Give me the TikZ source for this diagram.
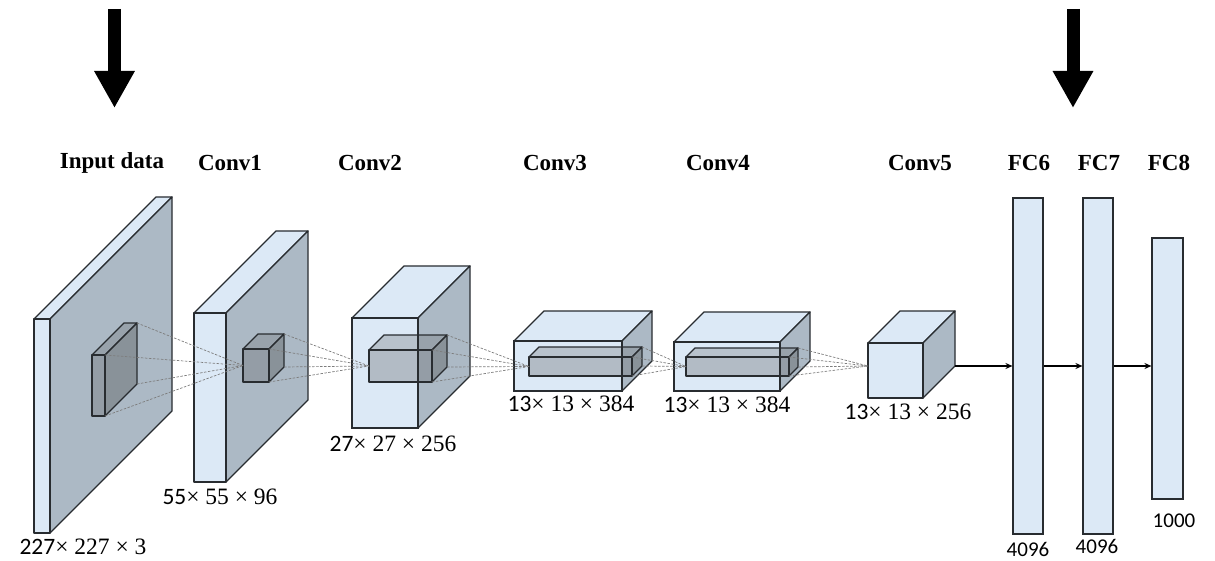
\documentclass[tikz,border=0pt]{standalone}
\usepackage{fontspec}
\usepackage{tikz}
\usetikzlibrary{arrows.meta,positioning,calc}
\newfontfamily\titlefont{Liberation Serif}
\newfontfamily\numfont{Carlito}
\definecolor{cnnfront}{RGB}{220,233,246}
\definecolor{cnnside}{RGB}{172,185,197}
\definecolor{cnnedge}{RGB}{40,44,48}
\definecolor{cnninner}{RGB}{110,114,118}
\definecolor{cnngrid}{RGB}{125,125,125}
\tikzstyle{outerfront} = [draw=cnnedge, line width=1.3pt, fill=cnnfront, line join=round]
\tikzstyle{outerside} = [draw=cnnedge, line width=1.3pt, fill=cnnside, line join=round]
\tikzstyle{outertop} = [draw=cnnedge, line width=1.3pt, fill=cnnfront, line join=round]
\tikzstyle{innerfront} = [draw=cnnedge, line width=1.3pt, fill=cnninner, fill opacity=0.38, line join=round]
\tikzstyle{innerside} = [draw=cnnedge, line width=1.3pt, fill=cnninner, fill opacity=0.55, line join=round]
\tikzstyle{innertop} = [draw=cnnedge, line width=1.3pt, fill=cnninner, fill opacity=0.32, line join=round]
\tikzstyle{edge} = [draw=cnnedge, line width=1.3pt]
\tikzstyle{fcbar} = [draw=cnnedge, line width=1.1pt, fill=cnnfront, inner sep=0pt]
\tikzstyle{conn} = [color=cnngrid, line width=0.7pt, dash pattern=on 2.5pt off 1.5pt]
\tikzstyle{arrow} = [line width=1.1pt, -{Stealth[length=7pt,width=6pt]}, color=black]
\tikzstyle{bigarrow} = [line width=13pt, -{Triangle[width=38pt,length=37pt]}]
\tikzstyle{layername} = [font=\titlefont\bfseries\fontsize{23}{26}\selectfont]
\tikzstyle{dimlabel} = [font=\titlefont\fontsize{23.5}{25}\selectfont]
\tikzstyle{fclabel} = [font=\numfont\fontsize{21}{23}\selectfont]

% box: name, x, y, width, height, depth, style prefix (outer/inner)
\newcommand{\layerbox}[7]{%
  \coordinate (#1-ftl) at (#2,#3);
  \coordinate (#1-ftr) at ({#2+#4},#3);
  \coordinate (#1-fbr) at ({#2+#4},{#3+#5});
  \coordinate (#1-fbl) at (#2,{#3+#5});
  \coordinate (#1-btl) at ({#2+#6},{#3-#6});
  \coordinate (#1-btr) at ({#2+#4+#6},{#3-#6});
  \coordinate (#1-bbr) at ({#2+#4+#6},{#3+#5-#6});
  \coordinate (#1-w) at (#2,{#3+#5/2});
  \draw[#7top] (#1-ftl) -- (#1-btl) -- (#1-btr) -- (#1-ftr) -- cycle;
  \draw[#7side] (#1-ftr) -- (#1-btr) -- (#1-bbr) -- (#1-fbr) -- cycle;
  \draw[#7front] (#1-ftl) rectangle (#1-fbr);
}

\begin{document}
\begin{tikzpicture}[x=1pt, y=-1pt]
\useasboundingbox (0,0) rectangle (1215,561);

% Pointer arrows
\coordinate (inp-top) at (114.5,9);
\coordinate (inp-tip) at (114.5,108);
\coordinate (fc-top) at (1073,9);
\coordinate (fc-tip) at (1073,108);
\draw[bigarrow] (inp-top) -- (inp-tip);
\draw[bigarrow] (fc-top) -- (fc-tip);

% Layer names
\node[layername] (n-input) at (112,163) {Input data};
\node[layername] (n-conv1) at (230,163) {Conv1};
\node[layername] (n-conv2) at (370,163) {Conv2};
\node[layername] (n-conv3) at (555,163) {Conv3};
\node[layername] (n-conv4) at (718,163) {Conv4};
\node[layername] (n-conv5) at (920,163) {Conv5};
\node[layername] (n-fc6) at (1029,163) {FC6};
\node[layername] (n-fc7) at (1099,163) {FC7};
\node[layername] (n-fc8) at (1169,163) {FC8};

% Input and conv1 slabs
\layerbox{input}{34}{319}{16}{214}{122}{outer}
\layerbox{kin}{92}{355}{13}{61}{32}{inner}
\layerbox{conv1}{194}{313}{32}{169}{82}{outer}
\layerbox{k1}{243}{349}{26}{33}{15}{inner}

% Conv2 - conv4 (inner box seen through)
\layerbox{conv2}{352}{318}{66}{110}{52}{outer}
\layerbox{k2}{369}{350}{63}{32}{15}{inner}
\draw[edge] (conv2-ftl) rectangle (conv2-fbr);
\layerbox{conv3}{514}{341}{108}{50}{30}{outer}
\layerbox{k3}{529}{357}{103}{19}{10}{inner}
\draw[edge] (conv3-ftl) rectangle (conv3-fbr);
\layerbox{conv4}{674}{342}{106}{49}{30}{outer}
\layerbox{k4}{686}{357}{103}{19}{9}{inner}
\draw[edge] (conv4-ftl) rectangle (conv4-fbr);

% Conv5
\layerbox{conv5}{868}{343}{55}{55}{32}{outer}
\coordinate (conv5-in) at (868,366);

% Receptive field lines
\foreach \src/\dst in {kin/k1-w, k1/k2-w, k2/k3-w, k3/k4-w, k4/conv5-in}{
  \foreach \c in {ftr, fbr, btr, bbr}
    \draw[conn] (\src-\c) -- (\dst);
}

% Fully connected
\node[fcbar, minimum width=30pt, minimum height=336pt] (fc6) at (1028,366) {};
\node[fcbar, minimum width=30pt, minimum height=336pt] (fc7) at (1098,366) {};
\node[fcbar, minimum width=31pt, minimum height=261pt] (fc8) at (1167.5,368.5) {};
\draw[arrow] (conv5-bbr) -- (conv5-bbr -| fc6.west);
\draw[arrow] (fc6.east) -- (fc7.west);
\draw[arrow] (fc7.east) -- (fc7.east -| fc8.west);

% Sizes
\node[dimlabel] (d-input) at (83,547) {{\numfont 227}× 227 × 3};
\node[dimlabel] (d-conv1) at (220,497) {{\numfont 55}× 55 × 96};
\node[dimlabel] (d-conv2) at (393,444) {{\numfont 27}× 27 × 256};
\node[dimlabel] (d-conv3) at (571,404) {{\numfont 13}× 13 × 384};
\node[dimlabel] (d-conv4) at (727,405) {{\numfont 13}× 13 × 384};
\node[dimlabel] (d-conv5) at (908,412) {{\numfont 13}× 13 × 256};
\node[fclabel] (d-fc6) at (1028,549) {4096};
\node[fclabel] (d-fc7) at (1097,546) {4096};
\node[fclabel] (d-fc8) at (1174,521) {1000};
\end{tikzpicture}
\end{document}
